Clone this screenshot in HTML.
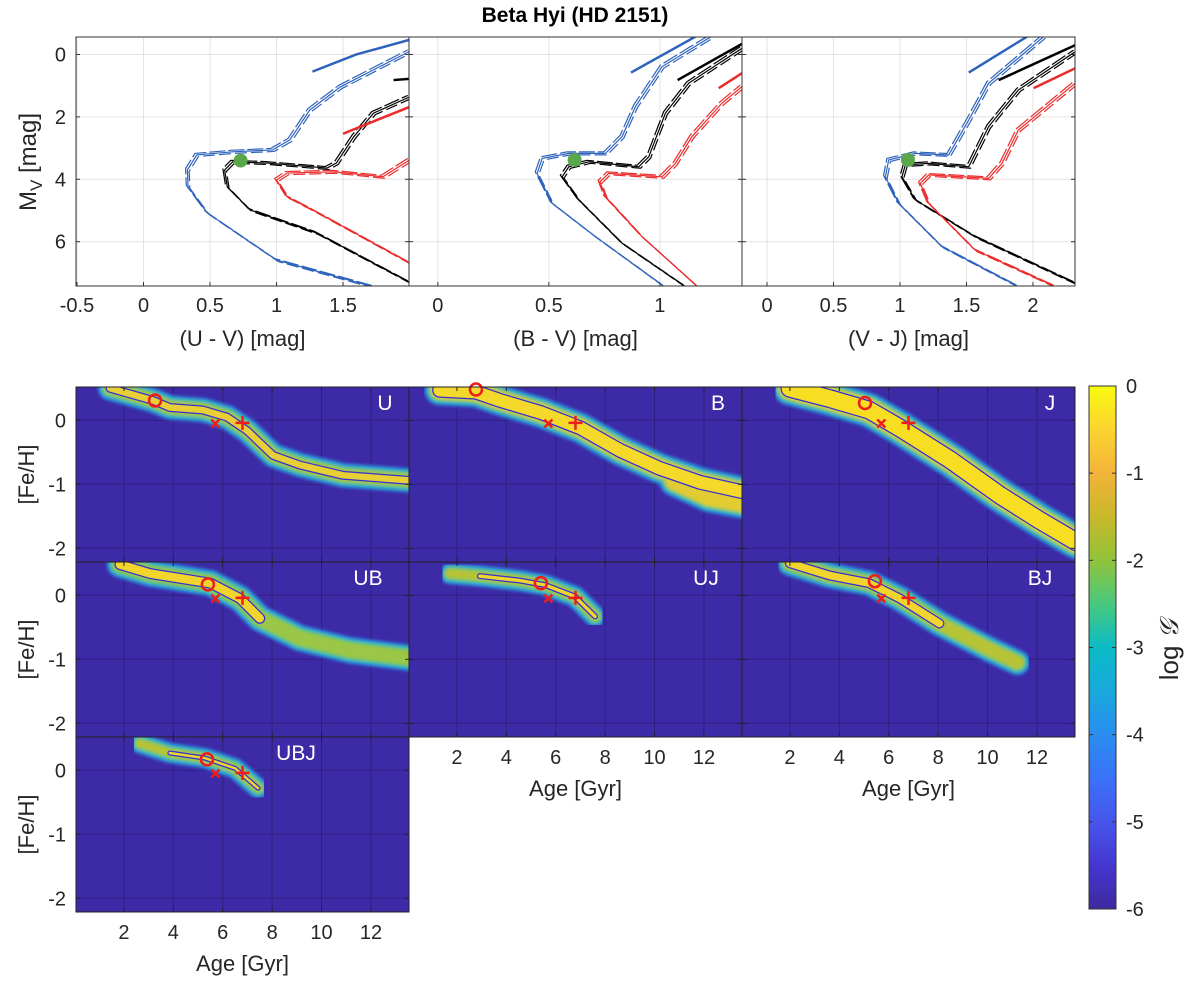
<!DOCTYPE html>
<html><head><meta charset="utf-8"><style>
body{margin:0;background:#fff;}
svg{display:block;font-family:"Liberation Sans",Arial,sans-serif;}
</style></head><body>
<svg id="fig" width="1200" height="995" viewBox="0 0 1200 995">
<defs>
<filter id="bl" x="-5%" y="-20%" width="110%" height="140%"><feGaussianBlur stdDeviation="1.6"/></filter>
<linearGradient id="parula" x1="0" y1="0" x2="0" y2="1">
<stop offset="0" stop-color="#f9fb0e"/><stop offset="0.08" stop-color="#fcd52f"/><stop offset="0.167" stop-color="#f3b33a"/>
<stop offset="0.25" stop-color="#c9b82a"/><stop offset="0.333" stop-color="#91c33a"/><stop offset="0.42" stop-color="#45c880"/>
<stop offset="0.5" stop-color="#0bbbc6"/><stop offset="0.583" stop-color="#19a9dc"/><stop offset="0.667" stop-color="#2a8df0"/>
<stop offset="0.75" stop-color="#3a72f8"/><stop offset="0.833" stop-color="#4656ec"/><stop offset="0.92" stop-color="#4535cf"/><stop offset="1" stop-color="#3e2a9e"/>
</linearGradient>
</defs>
<text x="575" y="22" text-anchor="middle" font-size="21" font-weight="bold">Beta Hyi (HD 2151)</text>
<g id="cmd"></g>
<g id="heat"></g>
<g id="cbar">
<rect x="1089" y="386" width="27" height="523" fill="url(#parula)" stroke="#333" stroke-width="1"/>
</g>
</svg>
<script>
// ---------- CMD data ([color, Mv]) ----------
const uvBlue=[[1.73,7.45],[1.0,6.59],[0.48,5.08],[0.335,4.24],[0.33,3.7],[0.40,3.22],[0.67,3.12],[0.97,3.06],[1.10,2.74],[1.25,1.78],[1.48,1.04],[2.0,-0.1]];
const uvBlueTip=[[1.27,0.55],[1.6,0.0],[2.0,-0.47]];
const uvBlack=[[2.0,7.3],[1.30,5.72],[0.80,4.98],[0.63,4.24],[0.61,3.7],[0.67,3.44],[0.93,3.48],[1.38,3.64],[1.45,3.48],[1.58,2.64],[1.73,1.88],[2.0,1.36]];
const uvBlackTip=[[1.88,0.82],[2.0,0.78]];
const uvRed=[[2.0,6.68],[1.27,4.98],[1.08,4.56],[1.0,4.02],[1.08,3.8],[1.43,3.76],[1.80,3.92],[2.0,3.38]];
const uvRedTip=[[1.50,2.54],[2.0,1.68]];
const uvStar=[0.73,3.4];
const bvBlue=[[1.02,7.44],[0.71,5.84],[0.515,4.77],[0.447,3.81],[0.47,3.33],[0.59,3.17],[0.755,3.17],[0.83,2.63],[0.89,1.67],[1.01,0.39],[1.23,-0.57]];
const bvBlueTip=[[0.87,0.58],[1.16,-0.57]];
const bvBlack=[[1.115,7.44],[0.83,6.05],[0.635,4.66],[0.56,3.92],[0.59,3.6],[0.68,3.44],[0.905,3.6],[0.95,3.28],[1.025,1.88],[1.13,0.92],[1.37,-0.2]];
const bvBlackTip=[[1.08,0.82],[1.37,-0.34]];
const bvRed=[[1.17,7.44],[0.92,5.84],[0.755,4.56],[0.73,4.08],[0.77,3.81],[1.01,3.92],[1.07,3.49],[1.145,2.63],[1.28,1.56],[1.37,1.03]];
const bvRedTip=[[1.265,1.08],[1.37,0.6]];
const bvStar=[0.616,3.38];
const vjBlue=[[1.89,7.44],[1.316,6.16],[0.99,4.77],[0.89,3.92],[0.915,3.38],[1.115,3.17],[1.366,3.22],[1.517,2.1],[1.667,0.92],[2.08,-0.57]];
const vjBlueTip=[[1.517,0.58],[1.955,-0.57]];
const vjBlack=[[2.318,7.33],[1.566,5.84],[1.115,4.66],[1.015,3.92],[1.04,3.54],[1.216,3.49],[1.517,3.6],[1.667,2.31],[1.89,1.14],[2.318,-0.09]];
const vjBlackTip=[[1.742,0.82],[2.318,-0.3]];
const vjRed=[[2.168,7.44],[1.566,6.27],[1.216,4.77],[1.153,4.13],[1.216,3.86],[1.667,3.97],[1.767,3.49],[1.89,2.42],[2.318,0.92]];
const vjRedTip=[[2.005,1.08],[2.318,0.44]];
const vjStar=[1.06,3.38];
const mvTicks=[0,2,4,6];
const uvTicks=[-0.5,0,0.5,1,1.5];
const bvTicks=[0,0.5,1];
const vjTicks=[0,0.5,1,1.5,2];
// ---------- Heatmap ridge data ([age, FeH]) ----------
const ridgeU=[[1.44,0.5],[3.18,0.31],[3.86,0.2],[5.2,0.16],[6.17,0.05],[6.98,-0.16],[8.04,-0.55],[9.13,-0.7],[10.87,-0.86],[13.6,-0.94]];
const ridgeB=[[1.3,0.47],[2.77,0.44],[3.75,0.31],[5.4,0.12],[7.0,-0.12],[8.6,-0.47],[10.2,-0.75],[11.85,-0.97],[13.6,-1.12]];
const ridgeBTail=[[10.8,-0.95],[12.2,-1.2],[13.6,-1.3]];
const ridgeJ=[[2.0,0.5],[3.6,0.34],[5.2,0.16],[6.45,-0.12],[8.5,-0.62],[10.5,-1.17],[12.1,-1.56],[13.6,-1.9]];
const ridgeUB=[[1.84,0.48],[3.06,0.34],[5.5,0.19],[6.7,-0.05],[7.5,-0.36],[9.13,-0.67],[11.15,-0.86],[13.6,-0.98]];
const ridgeUJ=[[1.72,0.34],[2.93,0.3],[4.55,0.23],[5.57,0.16],[6.78,-0.02],[7.59,-0.33]];
const ridgeBJ=[[2.0,0.5],[3.6,0.31],[5.2,0.19],[6.45,-0.05],[8.05,-0.44],[10.0,-0.83],[11.2,-1.05]];
const ridgeUBJ=[[2.65,0.42],[3.86,0.27],[5.28,0.19],[6.5,0.03],[7.43,-0.28]];
const bestCircle=[[3.26,0.31],[2.77,0.48],[5.04,0.27],[5.4,0.17],[5.4,0.19],[5.44,0.22],[5.36,0.17]];
const markX=[5.7,-0.05];
const markPlus=[6.8,-0.04];
const ageTicks=[2,4,6,8,10,12];
const fehTicks=[0,-1,-2];
const cbTicks=[0,-1,-2,-3,-4,-5,-6];

const NS='http://www.w3.org/2000/svg';
function mk(tag,attrs,parent){const e=document.createElementNS(NS,tag);for(const k in attrs)e.setAttribute(k,attrs[k]);parent.appendChild(e);return e;}
const cmd=document.getElementById('cmd'), heat=document.getElementById('heat'), cbar=document.getElementById('cbar');

// ----- CMD panels -----
const CY0=37,CY1=286,M0=-0.56,M1=7.42;
function yM(m){return CY0+(m-M0)/(M1-M0)*(CY1-CY0);}
const panels=[
 {x0:76,x1:409,c0:-0.5075,c1:1.996,ticks:uvTicks,lab:'(U - V) [mag]',cur:[uvBlue,uvBlack,uvRed],tip:[uvBlueTip,uvBlackTip,uvRedTip],star:uvStar,name:'uv'},
 {x0:409,x1:742,c0:-0.13,c1:1.37,ticks:bvTicks,lab:'(B - V) [mag]',cur:[bvBlue,bvBlack,bvRed],tip:[bvBlueTip,bvBlackTip,bvRedTip],star:bvStar,name:'bv'},
 {x0:742,x1:1075,c0:-0.188,c1:2.316,ticks:vjTicks,lab:'(V - J) [mag]',cur:[vjBlue,vjBlack,vjRed],tip:[vjBlueTip,vjBlackTip,vjRedTip],star:vjStar,name:'vj'}];
const cols=['#2f63bb','#000000','#ec2b2b'], cn=['blue','black','red'];
panels.forEach((p,pi)=>{
 const g=mk('g',{},cmd);
 
 
 const xC=c=>p.x0+(c-p.c0)/(p.c1-p.c0)*(p.x1-p.x0);
 const cp=mk('clipPath',{id:'cc'+pi},g);mk('rect',{x:p.x0,y:CY0,width:p.x1-p.x0,height:CY1-CY0},cp);
 p.ticks.forEach(t=>{const x=xC(t);mk('line',{x1:x,x2:x,y1:CY0,y2:CY1,stroke:'#e3e3e3','stroke-width':1},g);
   mk('line',{x1:x,x2:x,y1:CY1,y2:CY1-4,stroke:'#333'},g);
   const tl=mk('text',{x:x,y:CY1+26,'text-anchor':'middle','font-size':20,fill:'#262626'},g);tl.textContent=String(t);
   
   });
 mvTicks.forEach(t=>{const y=yM(t);mk('line',{x1:p.x0,x2:p.x1,y1:y,y2:y,stroke:'#e3e3e3'},g);
   mk('line',{x1:p.x0,x2:p.x0+4,y1:y,y2:y,stroke:'#333'},g);mk('line',{x1:p.x1,x2:p.x1-4,y1:y,y2:y,stroke:'#333'},g);
   if(pi===0){const tl=mk('text',{x:66,y:y+7,'text-anchor':'end','font-size':20,fill:'#262626'},g);tl.textContent=String(t);
   
   }});
 const cg=mk('g',{'clip-path':'url(#cc'+pi+')',fill:'none'},g);
 p.cur.forEach((arr,ci)=>{
   const pts=arr.map(d=>xC(d[0])+','+yM(d[1])).join(' ');
   [[0,0,'none'],[-1.8,-1.5,'16 3'],[1.8,1.5,'12 4']].forEach(o=>{
     const l=mk('polyline',{points:pts,stroke:cols[ci],'stroke-width':1.2,'stroke-dasharray':o[2],transform:'translate('+o[0]+','+o[1]+')'},cg);
     
     });
   const tp=p.tip[ci].map(d=>xC(d[0])+','+yM(d[1])).join(' ');
   const t=mk('polyline',{points:tp,stroke:cols[ci],'stroke-width':2.5},cg);
   
   
 });
 const s=mk('circle',{cx:xC(p.star[0]),cy:yM(p.star[1]),r:7,fill:'#5aa64a'},g);
 
 
 mk('rect',{x:p.x0,y:CY0,width:p.x1-p.x0,height:CY1-CY0,fill:'none',stroke:'#333','stroke-width':1},g);
 const xl=mk('text',{x:(p.x0+p.x1)/2,y:346,'text-anchor':'middle','font-size':22,fill:'#262626'},g);xl.textContent=p.lab;
 
 
});
const myl=mk('text',{x:0,y:0,'text-anchor':'middle','font-size':24,fill:'#262626',transform:'translate(36,162) rotate(-90)'},cmd);
myl.innerHTML='M<tspan font-size="17" dy="6">V</tspan><tspan dy="-6"> [mag]</tspan>';



// ----- Heatmaps -----
const HW=333,HH=175,A0=0.06,A1=13.54,F0=0.52,F1=0.52-175/64;
const hp=[
 {x:76,y:387,r:ridgeU,lab:'U',lx:385,ly:410,w:14,core:[0,9],c:'#e8cf36',ic:'#b5c63a'},
 {x:409,y:387,r:ridgeB,lab:'B',lx:718,ly:410,w:20,core:[0,8],c:'#f5d92a',ic:'#e2cc30',tail:ridgeBTail},
 {x:742,y:387,r:ridgeJ,lab:'J',lx:1050,ly:410,w:24,core:[0,7],c:'#f7de22',ic:'#e8d02e'},
 {x:76,y:562,r:ridgeUB,lab:'UB',lx:368,ly:585,w:16,core:[0,4],c:'#f2d52c',ic:'#9cc645'},
 {x:409,y:562,r:ridgeUJ,lab:'UJ',lx:706,ly:585,w:11,core:[1,5],c:'#f2d52c',ic:'#b8c436'},
 {x:742,y:562,r:ridgeBJ,lab:'BJ',lx:1040,ly:585,w:15,core:[0,4],c:'#f2d52c',ic:'#b8c436'},
 {x:76,y:737,r:ridgeUBJ,lab:'UBJ',lx:296,ly:760,w:10,core:[1,4],c:'#f2d52c',ic:'#b8c436'}];
hp.forEach((p,i)=>{
 const g=mk('g',{},heat);
 
 
 const xA=a=>p.x+(a-A0)/(A1-A0)*HW, yF=f=>p.y+(F0-f)/(F0-F1)*HH;
 const cp=mk('clipPath',{id:'hc'+i},g);mk('rect',{x:p.x,y:p.y,width:HW,height:HH},cp);
 mk('rect',{x:p.x,y:p.y,width:HW,height:HH,fill:'#3d2aa6'},g);
 const cg=mk('g',{'clip-path':'url(#hc'+i+')',fill:'none','stroke-linejoin':'round','stroke-linecap':'round'},g);
 ageTicks.forEach(t=>mk('line',{x1:xA(t),x2:xA(t),y1:p.y,y2:p.y+HH,stroke:'#2e2080','stroke-width':1},cg));
 fehTicks.forEach(t=>mk('line',{x1:p.x,x2:p.x+HW,y1:yF(t),y2:yF(t),stroke:'#2e2080','stroke-width':1},cg));
 const pts=p.r.map(d=>xA(d[0])+','+yF(d[1])).join(' ');
 const bg=mk('g',{filter:'url(#bl)'},cg);
 const lines=[pts];
 if(p.tail) lines.push(p.tail.map(d=>xA(d[0])+','+yF(d[1])).join(' '));
 [[10,'#2f8fe8'],[6,'#14b6c8'],[2,'#6cc65a'],[-2,p.ic]].forEach(s=>{
   lines.forEach(lp=>{
   const l=mk('polyline',{points:lp,stroke:s[1],'stroke-width':p.w+s[0]},bg);
   
   });});
 const cpts=p.r.slice(p.core[0],p.core[1]+1).map(d=>xA(d[0])+','+yF(d[1])).join(' ');
 mk('polyline',{points:cpts,stroke:'#3030d8','stroke-width':Math.max(4,p.w-5)},cg);
 const cl=mk('polyline',{points:cpts,stroke:p.c,'stroke-width':Math.max(2,p.w-7.5)},cg);
 
 
 const bc=bestCircle[i];
 const c=mk('circle',{cx:xA(bc[0]),cy:yF(bc[1]),r:6,fill:'none',stroke:'#f01c1c','stroke-width':2.5},g);
 
 
 const mx=xA(markX[0]),my=yF(markX[1]);
 const xm=mk('path',{d:`M${mx-4} ${my-4}L${mx+4} ${my+4}M${mx-4} ${my+4}L${mx+4} ${my-4}`,stroke:'#f01c1c','stroke-width':2.5},g);
 
 
 const px=xA(markPlus[0]),py=yF(markPlus[1]);
 const pm=mk('path',{d:`M${px-7} ${py}L${px+7} ${py}M${px} ${py-7}L${px} ${py+7}`,stroke:'#f01c1c','stroke-width':2.5},g);
 
 
 ageTicks.forEach(t=>{mk('line',{x1:xA(t),x2:xA(t),y1:p.y+HH,y2:p.y+HH-4,stroke:'#222'},g);mk('line',{x1:xA(t),x2:xA(t),y1:p.y,y2:p.y+4,stroke:'#222'},g);});
 fehTicks.forEach(t=>{mk('line',{x1:p.x,x2:p.x+4,y1:yF(t),y2:yF(t),stroke:'#222'},g);mk('line',{x1:p.x+HW,x2:p.x+HW-4,y1:yF(t),y2:yF(t),stroke:'#222'},g);});
 mk('rect',{x:p.x,y:p.y,width:HW,height:HH,fill:'none',stroke:'#222','stroke-width':1},g);
 const lt=mk('text',{x:p.lx,y:p.ly,'text-anchor':'middle','font-size':21,fill:'#fff'},g);lt.textContent=p.lab;
 
 
 if(p.x===76){
   fehTicks.forEach(t=>{const tl=mk('text',{x:66,y:yF(t)+7,'text-anchor':'end','font-size':20,fill:'#262626'},g);tl.textContent=String(t);
     
     });
   const yl=mk('text',{x:0,y:0,'text-anchor':'middle','font-size':22,fill:'#262626',transform:`translate(34,${p.y+HH/2}) rotate(-90)`},g);yl.textContent='[Fe/H]';
   
   
 }
 if(p.lab==='UBJ'||p.lab==='UJ'||p.lab==='BJ'){
   ageTicks.forEach(t=>{const tl=mk('text',{x:xA(t),y:p.y+HH+27,'text-anchor':'middle','font-size':20,fill:'#262626'},g);tl.textContent=String(t);
     
     });
   const xl=mk('text',{x:p.x+HW/2,y:p.y+HH+59,'text-anchor':'middle','font-size':22,fill:'#262626'},g);xl.textContent='Age [Gyr]';
   
   
 }
});

// ----- Colorbar -----
cbTicks.forEach(t=>{const y=386+(-t)/6*523;
 mk('line',{x1:1089,x2:1093,y1:y,y2:y,stroke:'#333'},cbar);mk('line',{x1:1116,x2:1112,y1:y,y2:y,stroke:'#333'},cbar);
 const tl=mk('text',{x:1126,y:y+7,'font-size':20,fill:'#262626'},cbar);tl.textContent=String(t);
 
 });
const cbl=mk('text',{x:0,y:0,'text-anchor':'middle','font-size':26,fill:'#262626',transform:'translate(1178,650) rotate(-90)'},cbar);
cbl.innerHTML='log <tspan font-family="DejaVu Sans, serif" font-style="italic">𝒢</tspan>';


</script>
</body></html>
